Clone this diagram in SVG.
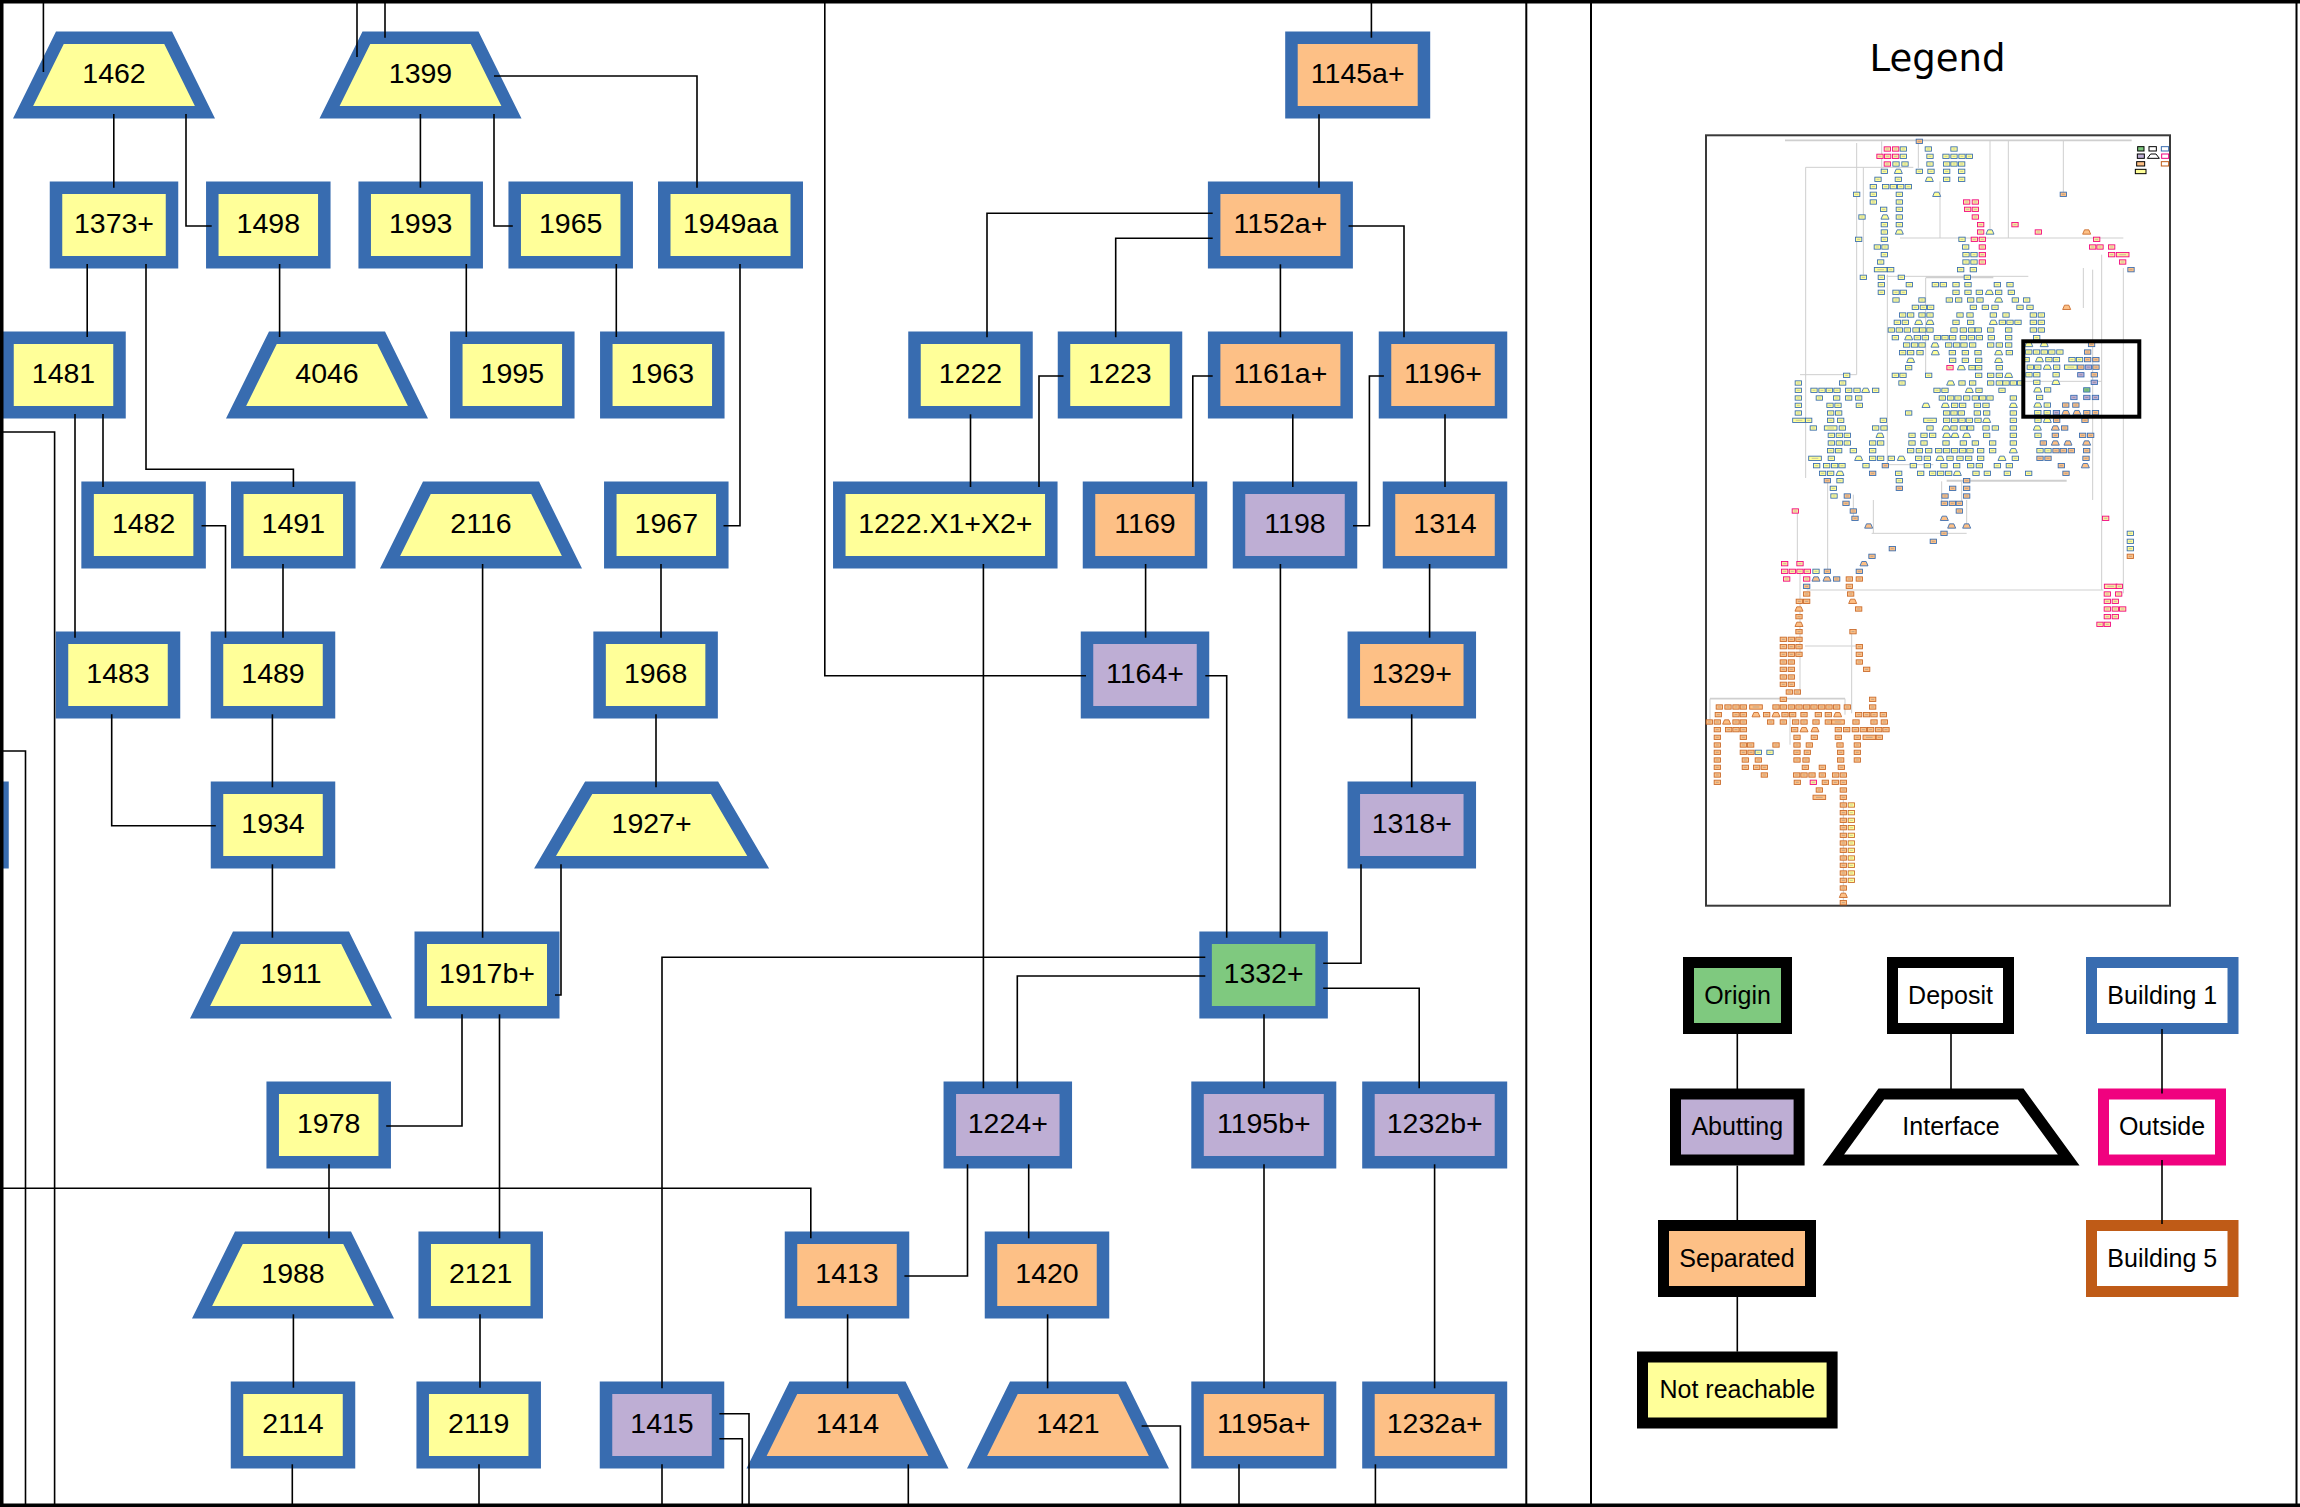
<svg xmlns="http://www.w3.org/2000/svg" width="2300" height="1507" viewBox="0 0 2300 1507">
<style>
.e{fill:none;stroke:#000;stroke-width:1.6}
.n rect,.n polygon{stroke:#386cb0;stroke-width:12.5}
.L rect,.L polygon{stroke:#000;stroke-width:11}
.t{font-family:"Liberation Sans",Arial,Helvetica,sans-serif;font-size:28.5px;text-anchor:middle;fill:#000}
.lt{font-family:"Liberation Sans",Arial,Helvetica,sans-serif;font-size:25px;text-anchor:middle;fill:#000}
.Y{fill:#ffff99}.O{fill:#fdc086}.P{fill:#beaed4}.G{fill:#7fc97f}.W{fill:#fff}
.ml{fill:none;stroke:#cfcfcf;stroke-width:3}
</style>
<defs>
<g id="my"><rect x="-9.5" y="-6.5" width="19" height="13" fill="#ffff99" stroke="#386cb0" stroke-width="2.6"/><path d="M-4.5 0h9" stroke="#999" stroke-width="1.6"/></g>
<g id="myb"><rect x="-9.5" y="-6.5" width="19" height="13" fill="#ffff99" stroke="#c8692a" stroke-width="2.6"/><path d="M-4.5 0h9" stroke="#999" stroke-width="1.6"/></g>
<g id="mw"><rect x="-19" y="-6.5" width="38" height="13" fill="#ffff99" stroke="#386cb0" stroke-width="2.6"/><path d="M-10 0h20" stroke="#999" stroke-width="1.6"/></g>
<g id="mp"><rect x="-9.5" y="-6.5" width="19" height="13" fill="#fde6a0" stroke="#f0027f" stroke-width="2.6"/><path d="M-4.5 0h9" stroke="#999" stroke-width="1.6"/></g>
<g id="mpw"><rect x="-19" y="-6.5" width="38" height="13" fill="#fde6a0" stroke="#f0027f" stroke-width="2.6"/><path d="M-10 0h20" stroke="#999" stroke-width="1.6"/></g>
<g id="mo"><rect x="-9.5" y="-6.5" width="19" height="13" fill="#fdc086" stroke="#386cb0" stroke-width="2.6"/><path d="M-4.5 0h9" stroke="#888" stroke-width="1.6"/></g>
<g id="mb"><rect x="-9.5" y="-6.5" width="19" height="13" fill="#fdc086" stroke="#c8692a" stroke-width="2.6"/><path d="M-4.5 0h9" stroke="#888" stroke-width="1.6"/></g>
<g id="mbw"><rect x="-19" y="-6.5" width="38" height="13" fill="#fdc086" stroke="#c8692a" stroke-width="2.6"/><path d="M-10 0h20" stroke="#888" stroke-width="1.6"/></g>
<g id="mv"><rect x="-9.5" y="-6.5" width="19" height="13" fill="#beaed4" stroke="#386cb0" stroke-width="2.6"/><path d="M-4.5 0h9" stroke="#777" stroke-width="1.6"/></g>
<g id="mg"><rect x="-9.5" y="-6.5" width="19" height="13" fill="#7fc97f" stroke="#386cb0" stroke-width="2.6"/><path d="M-4.5 0h9" stroke="#777" stroke-width="1.6"/></g>
<g id="mt"><polygon points="-6.5,-6.5 6.5,-6.5 12,6.5 -12,6.5" fill="#ffff99" stroke="#386cb0" stroke-width="2.6"/></g>
<g id="mtb"><polygon points="-6.5,-6.5 6.5,-6.5 12,6.5 -12,6.5" fill="#fdc086" stroke="#386cb0" stroke-width="2.6"/></g>
<g id="mto"><polygon points="-6.5,-6.5 6.5,-6.5 12,6.5 -12,6.5" fill="#fdc086" stroke="#c8692a" stroke-width="2.6"/></g>
</defs>
<rect x="0" y="0" width="2300" height="1507" fill="#fff"/>

<g id="nodes">
<g id="n1462" class="n"><polygon class="Y" points="59.88,37.75 168.12,37.75 204.94,112.25 23.06,112.25"/><text class="t" x="114" y="83">1462</text></g>
<g id="n1399" class="n"><polygon class="Y" points="366.38,37.75 474.62,37.75 511.44,112.25 329.56,112.25"/><text class="t" x="420.5" y="83">1399</text></g>
<g id="n1145a" class="n"><rect class="O" x="1291.45" y="37.75" width="132.5" height="74.5"/><text class="t" x="1357.7" y="83">1145a+</text></g>

<g id="n1373" class="n"><rect class="Y" x="56" y="187.75" width="116" height="74.5"/><text class="t" x="114" y="233">1373+</text></g>
<g id="n1498" class="n"><rect class="Y" x="212.3" y="187.75" width="112" height="74.5"/><text class="t" x="268.3" y="233">1498</text></g>
<g id="n1993" class="n"><rect class="Y" x="364.7" y="187.75" width="112" height="74.5"/><text class="t" x="420.7" y="233">1993</text></g>
<g id="n1965" class="n"><rect class="Y" x="514.7" y="187.75" width="112" height="74.5"/><text class="t" x="570.7" y="233">1965</text></g>
<g id="n1949aa" class="n"><rect class="Y" x="664.25" y="187.75" width="132.5" height="74.5"/><text class="t" x="730.5" y="233">1949aa</text></g>
<g id="n1152a" class="n"><rect class="O" x="1214.15" y="187.75" width="132.5" height="74.5"/><text class="t" x="1280.4" y="233">1152a+</text></g>

<g id="n1481" class="n"><rect class="Y" x="7.5" y="337.75" width="112" height="74.5"/><text class="t" x="63.5" y="383">1481</text></g>
<g id="n4046" class="n"><polygon class="Y" points="272.88,337.75 381.12,337.75 417.94,412.25 236.06,412.25"/><text class="t" x="327" y="383">4046</text></g>
<g id="n1995" class="n"><rect class="Y" x="456.3" y="337.75" width="112" height="74.5"/><text class="t" x="512.3" y="383">1995</text></g>
<g id="n1963" class="n"><rect class="Y" x="606.3" y="337.75" width="112" height="74.5"/><text class="t" x="662.3" y="383">1963</text></g>
<g id="n1222" class="n"><rect class="Y" x="914.5" y="337.75" width="112" height="74.5"/><text class="t" x="970.5" y="383">1222</text></g>
<g id="n1223" class="n"><rect class="Y" x="1064" y="337.75" width="112" height="74.5"/><text class="t" x="1120" y="383">1223</text></g>
<g id="n1161a" class="n"><rect class="O" x="1214.15" y="337.75" width="132.5" height="74.5"/><text class="t" x="1280.4" y="383">1161a+</text></g>
<g id="n1196" class="n"><rect class="O" x="1385" y="337.75" width="116" height="74.5"/><text class="t" x="1443" y="383">1196+</text></g>

<g id="n1482" class="n"><rect class="Y" x="87.6" y="487.75" width="112" height="74.5"/><text class="t" x="143.6" y="533">1482</text></g>
<g id="n1491" class="n"><rect class="Y" x="237.3" y="487.75" width="112" height="74.5"/><text class="t" x="293.3" y="533">1491</text></g>
<g id="n2116" class="n"><polygon class="Y" points="426.88,487.75 535.12,487.75 571.94,562.25 390.06,562.25"/><text class="t" x="481" y="533">2116</text></g>
<g id="n1967" class="n"><rect class="Y" x="610.3" y="487.75" width="112" height="74.5"/><text class="t" x="666.3" y="533">1967</text></g>
<g id="n1222X" class="n"><rect class="Y" x="839.3" y="487.75" width="212" height="74.5"/><text class="t" x="945.3" y="533">1222.X1+X2+</text></g>
<g id="n1169" class="n"><rect class="O" x="1089" y="487.75" width="112" height="74.5"/><text class="t" x="1145" y="533">1169</text></g>
<g id="n1198" class="n"><rect class="P" x="1239" y="487.75" width="112" height="74.5"/><text class="t" x="1295" y="533">1198</text></g>
<g id="n1314" class="n"><rect class="O" x="1389" y="487.75" width="112" height="74.5"/><text class="t" x="1445" y="533">1314</text></g>

<g id="n1483" class="n"><rect class="Y" x="62" y="637.75" width="112" height="74.5"/><text class="t" x="118" y="683">1483</text></g>
<g id="n1489" class="n"><rect class="Y" x="217" y="637.75" width="112" height="74.5"/><text class="t" x="273" y="683">1489</text></g>
<g id="n1968" class="n"><rect class="Y" x="599.6" y="637.75" width="112" height="74.5"/><text class="t" x="655.6" y="683">1968</text></g>
<g id="n1164" class="n"><rect class="P" x="1087" y="637.75" width="116" height="74.5"/><text class="t" x="1145" y="683">1164+</text></g>
<g id="n1329" class="n"><rect class="O" x="1353.8" y="637.75" width="116" height="74.5"/><text class="t" x="1411.8" y="683">1329+</text></g>

<g id="nOffscreen" class="n"><rect class="Y" x="-110" y="787.75" width="112.5" height="74.5"/></g>
<g id="n1934" class="n"><rect class="Y" x="217" y="787.75" width="112" height="74.5"/><text class="t" x="273" y="833">1934</text></g>
<g id="n1927" class="n"><polygon class="Y" points="588.68,787.75 714.52,787.75 758.2,862.25 545,862.25"/><text class="t" x="651.6" y="833">1927+</text></g>
<g id="n1318" class="n"><rect class="P" x="1353.8" y="787.75" width="116" height="74.5"/><text class="t" x="1411.8" y="833">1318+</text></g>

<g id="n1911" class="n"><polygon class="Y" points="236.88,937.75 345.12,937.75 381.94,1012.25 200.06,1012.25"/><text class="t" x="291" y="983">1911</text></g>
<g id="n1917b" class="n"><rect class="Y" x="420.75" y="937.75" width="132.5" height="74.5"/><text class="t" x="487" y="983">1917b+</text></g>
<g id="n1332" class="n"><rect class="G" x="1205.6" y="937.75" width="116" height="74.5"/><text class="t" x="1263.6" y="983">1332+</text></g>

<g id="n1978" class="n"><rect class="Y" x="272.7" y="1087.75" width="112" height="74.5"/><text class="t" x="328.7" y="1133">1978</text></g>
<g id="n1224" class="n"><rect class="P" x="949.8" y="1087.75" width="116" height="74.5"/><text class="t" x="1007.8" y="1133">1224+</text></g>
<g id="n1195b" class="n"><rect class="P" x="1197.55" y="1087.75" width="132.5" height="74.5"/><text class="t" x="1263.8" y="1133">1195b+</text></g>
<g id="n1232b" class="n"><rect class="P" x="1368.45" y="1087.75" width="132.5" height="74.5"/><text class="t" x="1434.7" y="1133">1232b+</text></g>

<g id="n1988" class="n"><polygon class="Y" points="238.88,1237.75 347.12,1237.75 383.94,1312.25 202.06,1312.25"/><text class="t" x="293" y="1283">1988</text></g>
<g id="n2121" class="n"><rect class="Y" x="424.7" y="1237.75" width="112" height="74.5"/><text class="t" x="480.7" y="1283">2121</text></g>
<g id="n1413" class="n"><rect class="O" x="791" y="1237.75" width="112" height="74.5"/><text class="t" x="847" y="1283">1413</text></g>
<g id="n1420" class="n"><rect class="O" x="991" y="1237.75" width="112" height="74.5"/><text class="t" x="1047" y="1283">1420</text></g>

<g id="n2114" class="n"><rect class="Y" x="237" y="1387.75" width="112" height="74.5"/><text class="t" x="293" y="1433">2114</text></g>
<g id="n2119" class="n"><rect class="Y" x="422.7" y="1387.75" width="112" height="74.5"/><text class="t" x="478.7" y="1433">2119</text></g>
<g id="n1415" class="n"><rect class="P" x="606" y="1387.75" width="112" height="74.5"/><text class="t" x="662" y="1433">1415</text></g>
<g id="n1414" class="n"><polygon class="O" points="793.38,1387.75 901.62,1387.75 938.44,1462.25 756.56,1462.25"/><text class="t" x="847.5" y="1433">1414</text></g>
<g id="n1421" class="n"><polygon class="O" points="1013.88,1387.75 1122.12,1387.75 1158.94,1462.25 977.06,1462.25"/><text class="t" x="1068" y="1433">1421</text></g>
<g id="n1195a" class="n"><rect class="O" x="1197.55" y="1387.75" width="132.5" height="74.5"/><text class="t" x="1263.8" y="1433">1195a+</text></g>
<g id="n1232a" class="n"><rect class="O" x="1368.45" y="1387.75" width="132.5" height="74.5"/><text class="t" x="1434.7" y="1433">1232a+</text></g>
</g>

<g id="connectors" class="e">
<path d="M43.4 0V72"/>
<path d="M357 0V57"/>
<path d="M385 0V37.7"/>
<path d="M494 76H697V187.7"/>
<path d="M113.8 114V187.7"/>
<path d="M186 114V226H211.7"/>
<path d="M420.4 114V187.7"/>
<path d="M494 114V226H512.8"/>
<path d="M87.2 264V337"/>
<path d="M146 264V469.3H293.4V487"/>
<path d="M279.6 264V337"/>
<path d="M466.3 264V337"/>
<path d="M616.3 264V337"/>
<path d="M740 264V525.7H723.5"/>
<path d="M103 414V487"/>
<path d="M75 414V637.7"/>
<path d="M0 432H54.6V1507"/>
<path d="M201.5 525.7H225.5V637.7"/>
<path d="M283 564V637.7"/>
<path d="M482.6 564V937.7"/>
<path d="M661 564V637.7"/>
<path d="M111.7 714.3V825.7H215.8"/>
<path d="M272.4 714.3V787.3"/>
<path d="M656 714.3V787.3"/>
<path d="M272.4 864.3V937.7"/>
<path d="M561 864.3V995H555"/>
<path d="M0 751H25.5V1507"/>
<path d="M462 1014.3V1126H386.2"/>
<path d="M499.5 1014.3V1238.3"/>
<path d="M329 1164.3V1238.3"/>
<path d="M0 1188.3H810.8V1238.3"/>
<path d="M293.4 1314.3V1387.7"/>
<path d="M480 1314.3V1387.7"/>
<path d="M292.3 1464.3V1507"/>
<path d="M479 1464.3V1507"/>
<path d="M662 1464.3V1507"/>
<path d="M719.4 1413.7H749V1507"/>
<path d="M719.4 1438.7H742.3V1507"/>
<path d="M1205.3 957.3H662V1388.3"/>
<path d="M1371.4 0V37.7"/>
<path d="M1319 114.3V187.7"/>
<path d="M1212.7 213.3H987V337.3"/>
<path d="M1212.7 238.3H1115.7V337.3"/>
<path d="M1280.4 264.3V337.3"/>
<path d="M1348.5 226H1404V337.3"/>
<path d="M970.5 414.3V487"/>
<path d="M1063.5 376H1039V487"/>
<path d="M1212.7 376H1192.8V487"/>
<path d="M1292.8 414.3V487"/>
<path d="M1383.9 376H1369.4V525.7H1353"/>
<path d="M1445 414.3V487"/>
<path d="M983.4 564V1088.3"/>
<path d="M1145.6 564V637.7"/>
<path d="M1280.4 564V937.7"/>
<path d="M1429.6 564V637.7"/>
<path d="M824.8 0V675.7H1086"/>
<path d="M1205.3 675.7H1226.7V937.7"/>
<path d="M1411.7 714.3V787.3"/>
<path d="M1361 864.3V963.3H1323.2"/>
<path d="M1205.3 976H1017.3V1088.3"/>
<path d="M1323.2 988.3H1419.2V1088.3"/>
<path d="M1264 1014.3V1088.3"/>
<path d="M967.5 1164.3V1276H904.4"/>
<path d="M1028.7 1164.3V1238.3"/>
<path d="M1264 1164.3V1388.3"/>
<path d="M1434.6 1164.3V1388.3"/>
<path d="M847.6 1314.3V1388.3"/>
<path d="M1047.6 1314.3V1388.3"/>
<path d="M908.3 1464.3V1507"/>
<path d="M1141.6 1426H1180.4V1507"/>
<path d="M1239 1464.3V1507"/>
<path d="M1375.4 1464.3V1507"/>
</g>

<g id="legend">
<text x="1937.5" y="71" font-family="DejaVu Sans,Verdana,sans-serif" font-size="37" text-anchor="middle" fill="#000">Legend</text>
<g id="minimap">
<rect x="1706" y="135.3" width="464" height="770.4" fill="#fff" stroke="#3a3a3a" stroke-width="2"/>
<g transform="translate(1700,128) scale(0.333333)">
<g class="ml">
<path d="M255 37H1295" stroke-width="5"/>
<path d="M317 118V1050M317 118H640M470 45V740M490 118V440M545 40V130M655 37V120"/>
<path d="M562 440V1010M560 445H985" />
<path d="M677 448H880" stroke-width="6"/>
<path d="M677 450V740M870 37V310M925 37V330M1090 37V195M720 160V330"/>
<path d="M600 330H1270M1150 420V540M1205 380V1386M1270 420V1396M1178 425V1116M930 760H1205"/>
<path d="M740 1058H1100" stroke-width="6"/>
<path d="M383 1050V1331M460 1100V1170M725 1060V1130M785 1060V1120M560 1010H700M300 740H470"/>
<path d="M320 1386H1210M455 1511V1756M292 1156V1306M515 1216H800M520 1116V1216M800 1116V1196M315 1554H470M300 1330V1700"/>
<path d="M30 1712H435" stroke-width="5"/>
<path d="M430 2008V2324M30 1712V1790M435 1712V1760M270 1760V1850"/>
</g>
<g transform="translate(0,40)"><use href="#mo" x="658"/></g>
<g transform="translate(0,63)"><use href="#mp" x="562"/><use href="#mp" x="587"/><use href="#my" x="610"/><use href="#my" x="685"/><use href="#my" x="762"/></g>
<g transform="translate(0,85)"><use href="#mp" x="540"/><use href="#mp" x="563"/><use href="#mp" x="587"/><use href="#my" x="610"/><use href="#my" x="690"/><use href="#my" x="738"/><use href="#my" x="762"/><use href="#my" x="786"/><use href="#my" x="808"/></g>
<g transform="translate(0,108)"><use href="#mp" x="562"/><use href="#my" x="588"/><use href="#my" x="615"/><use href="#my" x="690"/><use href="#my" x="740"/><use href="#my" x="762"/><use href="#my" x="785"/></g>
<g transform="translate(0,130)"><use href="#my" x="553"/><use href="#mt" x="595"/><use href="#my" x="658"/><use href="#my" x="693"/><use href="#my" x="740"/><use href="#my" x="785"/></g>
<g transform="translate(0,154)"><use href="#my" x="534"/><use href="#my" x="595"/><use href="#mt" x="688"/><use href="#my" x="740"/><use href="#my" x="785"/></g>
<g transform="translate(0,176)"><use href="#my" x="520"/><use href="#my" x="557"/><use href="#my" x="580"/><use href="#my" x="602"/><use href="#my" x="625"/></g>
<g transform="translate(0,199)"><use href="#my" x="470"/><use href="#my" x="520"/><use href="#my" x="598"/><use href="#mt" x="710"/><use href="#mo" x="1090"/></g>
<g transform="translate(0,222)"><use href="#my" x="520"/><use href="#my" x="598"/><use href="#mp" x="800"/><use href="#mp" x="826"/></g>
<g transform="translate(0,244)"><use href="#my" x="551"/><use href="#my" x="598"/><use href="#mp" x="803"/><use href="#mp" x="826"/></g>
<g transform="translate(0,267)"><use href="#my" x="486"/><use href="#mt" x="555"/><use href="#my" x="598"/><use href="#mp" x="826"/></g>
<g transform="translate(0,290)"><use href="#my" x="553"/><use href="#my" x="598"/><use href="#mp" x="842"/><use href="#mp" x="945"/></g>
<g transform="translate(0,312)"><use href="#my" x="553"/><use href="#mt" x="598"/><use href="#mp" x="842"/><use href="#mt" x="870"/><use href="#mp" x="1015"/><use href="#mto" x="1160"/></g>
<g transform="translate(0,334)"><use href="#my" x="476"/><use href="#my" x="553"/><use href="#my" x="786"/><use href="#mp" x="823"/><use href="#mp" x="847"/><use href="#mp" x="1190"/></g>
<g transform="translate(0,357)"><use href="#my" x="532"/><use href="#my" x="555"/><use href="#my" x="797"/><use href="#mp" x="847"/><use href="#mp" x="1178"/><use href="#mp" x="1200"/><use href="#mp" x="1235"/></g>
<g transform="translate(0,380)"><use href="#my" x="553"/><use href="#my" x="798"/><use href="#my" x="822"/><use href="#mp" x="847"/><use href="#mp" x="1235"/><use href="#mpw" x="1268"/></g>
<g transform="translate(0,402)"><use href="#my" x="542"/><use href="#my" x="798"/><use href="#my" x="822"/><use href="#mp" x="847"/><use href="#mp" x="1268"/></g>
<g transform="translate(0,425)"><use href="#mw" x="542"/><use href="#my" x="572"/><use href="#my" x="782"/><use href="#my" x="820"/><use href="#mo" x="1293"/></g>
<g transform="translate(0,448)"><use href="#my" x="490"/><use href="#my" x="544"/><use href="#my" x="604"/><use href="#my" x="802"/></g>
<g transform="translate(0,470)"><use href="#my" x="544"/><use href="#my" x="628"/><use href="#my" x="706"/><use href="#my" x="730"/><use href="#my" x="768"/><use href="#my" x="804"/><use href="#my" x="892"/><use href="#my" x="930"/></g>
<g transform="translate(0,493)"><use href="#my" x="544"/><use href="#my" x="588"/><use href="#my" x="610"/><use href="#my" x="768"/><use href="#my" x="804"/><use href="#my" x="838"/><use href="#mt" x="868"/><use href="#my" x="896"/><use href="#my" x="934"/></g>
<g transform="translate(0,516)"><use href="#my" x="588"/><use href="#my" x="666"/><use href="#my" x="748"/><use href="#my" x="776"/><use href="#my" x="812"/><use href="#my" x="840"/><use href="#mt" x="896"/><use href="#my" x="946"/><use href="#my" x="980"/></g>
<g transform="translate(0,538)"><use href="#my" x="646"/><use href="#my" x="670"/><use href="#my" x="692"/><use href="#my" x="820"/><use href="#my" x="856"/><use href="#my" x="885"/><use href="#my" x="960"/><use href="#my" x="990"/><use href="#mto" x="1100"/></g>
<g transform="translate(0,561)"><use href="#my" x="608"/><use href="#my" x="632"/><use href="#my" x="666"/><use href="#my" x="690"/><use href="#my" x="780"/><use href="#my" x="810"/><use href="#my" x="880"/><use href="#my" x="918"/><use href="#my" x="1000"/><use href="#my" x="1024"/></g>
<g transform="translate(0,583)"><use href="#my" x="592"/><use href="#my" x="616"/><use href="#mt" x="656"/><use href="#mt" x="690"/><use href="#my" x="768"/><use href="#my" x="812"/><use href="#mt" x="880"/><use href="#my" x="907"/><use href="#my" x="930"/><use href="#my" x="954"/><use href="#my" x="1000"/><use href="#my" x="1024"/></g>
<g transform="translate(0,606)"><use href="#my" x="574"/><use href="#my" x="598"/><use href="#my" x="622"/><use href="#my" x="648"/><use href="#my" x="668"/><use href="#my" x="690"/><use href="#my" x="762"/><use href="#my" x="790"/><use href="#my" x="815"/><use href="#my" x="835"/><use href="#my" x="872"/><use href="#my" x="926"/><use href="#my" x="1000"/><use href="#my" x="1024"/></g>
<g transform="translate(0,629)"><use href="#my" x="586"/><use href="#mt" x="626"/><use href="#my" x="652"/><use href="#my" x="676"/><use href="#my" x="712"/><use href="#my" x="735"/><use href="#my" x="758"/><use href="#my" x="790"/><use href="#my" x="814"/><use href="#my" x="838"/><use href="#my" x="874"/><use href="#my" x="926"/><use href="#my" x="1010"/></g>
<g transform="translate(0,651)"><use href="#my" x="620"/><use href="#my" x="644"/><use href="#my" x="666"/><use href="#mt" x="705"/><use href="#my" x="746"/><use href="#my" x="770"/><use href="#my" x="792"/><use href="#my" x="818"/><use href="#my" x="872"/><use href="#my" x="898"/><use href="#my" x="926"/></g>
<g transform="translate(0,674)"><use href="#my" x="608"/><use href="#my" x="632"/><use href="#my" x="660"/><use href="#mt" x="706"/><use href="#my" x="757"/><use href="#my" x="796"/><use href="#my" x="834"/><use href="#mt" x="896"/><use href="#my" x="928"/></g>
<g transform="translate(0,697)"><use href="#mt" x="632"/><use href="#my" x="758"/><use href="#my" x="796"/><use href="#my" x="836"/><use href="#mt" x="896"/></g>
<g transform="translate(0,719)"><use href="#my" x="626"/><use href="#mp" x="750"/><use href="#mt" x="784"/><use href="#my" x="816"/><use href="#my" x="836"/><use href="#my" x="898"/></g>
<g transform="translate(0,742)"><use href="#my" x="440"/><use href="#my" x="586"/><use href="#my" x="609"/><use href="#my" x="686"/><use href="#my" x="836"/><use href="#my" x="872"/><use href="#my" x="898"/><use href="#mt" x="926"/></g>
<g transform="translate(0,765)"><use href="#my" x="295"/><use href="#my" x="428"/><use href="#my" x="606"/><use href="#mt" x="752"/><use href="#my" x="786"/><use href="#my" x="818"/><use href="#my" x="872"/><use href="#my" x="898"/><use href="#my" x="918"/><use href="#my" x="940"/><use href="#my" x="962"/></g>
<g transform="translate(0,787)"><use href="#my" x="295"/><use href="#my" x="342"/><use href="#my" x="366"/><use href="#my" x="388"/><use href="#my" x="411"/><use href="#my" x="446"/><use href="#my" x="471"/><use href="#mt" x="497"/><use href="#my" x="527"/><use href="#my" x="711"/><use href="#my" x="735"/><use href="#mt" x="808"/><use href="#my" x="837"/><use href="#my" x="906"/></g>
<g transform="translate(0,810)"><use href="#my" x="295"/><use href="#my" x="358"/><use href="#my" x="410"/><use href="#my" x="446"/><use href="#my" x="476"/><use href="#my" x="727"/><use href="#my" x="752"/><use href="#my" x="774"/><use href="#my" x="800"/><use href="#my" x="826"/><use href="#my" x="848"/><use href="#my" x="870"/><use href="#my" x="940"/></g>
<g transform="translate(0,832)"><use href="#my" x="295"/><use href="#my" x="390"/><use href="#my" x="414"/><use href="#my" x="478"/><use href="#mt" x="678"/><use href="#mt" x="736"/><use href="#my" x="764"/><use href="#my" x="788"/><use href="#my" x="832"/><use href="#my" x="858"/><use href="#mt" x="940"/></g>
<g transform="translate(0,855)"><use href="#my" x="295"/><use href="#my" x="392"/><use href="#my" x="416"/><use href="#my" x="626"/><use href="#my" x="740"/><use href="#my" x="762"/><use href="#my" x="784"/><use href="#my" x="832"/><use href="#my" x="860"/><use href="#my" x="940"/></g>
<g transform="translate(0,877)"><use href="#mw" x="297"/><use href="#my" x="326"/><use href="#my" x="392"/><use href="#my" x="422"/><use href="#my" x="550"/><use href="#mw" x="690"/><use href="#my" x="740"/><use href="#my" x="764"/><use href="#my" x="786"/><use href="#my" x="808"/><use href="#my" x="834"/><use href="#mt" x="860"/><use href="#my" x="940"/><use href="#my" x="1014"/><use href="#mt" x="1042"/><use href="#mo" x="1070"/><use href="#mo" x="1155"/></g>
<g transform="translate(0,900)"><use href="#my" x="340"/><use href="#mw" x="392"/><use href="#my" x="427"/><use href="#my" x="527"/><use href="#my" x="552"/><use href="#my" x="690"/><use href="#mt" x="738"/><use href="#my" x="762"/><use href="#my" x="790"/><use href="#my" x="812"/><use href="#my" x="858"/><use href="#my" x="886"/><use href="#my" x="940"/><use href="#mt" x="1012"/><use href="#mtb" x="1066"/><use href="#mo" x="1094"/></g>
<g transform="translate(0,922)"><use href="#my" x="394"/><use href="#my" x="418"/><use href="#my" x="442"/><use href="#mt" x="540"/><use href="#my" x="636"/><use href="#my" x="672"/><use href="#my" x="698"/><use href="#mt" x="740"/><use href="#mt" x="765"/><use href="#mt" x="800"/><use href="#my" x="860"/><use href="#my" x="940"/><use href="#my" x="1014"/><use href="#mo" x="1066"/><use href="#mo" x="1148"/><use href="#mo" x="1172"/></g>
<g transform="translate(0,945)"><use href="#my" x="394"/><use href="#my" x="418"/><use href="#my" x="442"/><use href="#my" x="518"/><use href="#my" x="542"/><use href="#my" x="636"/><use href="#my" x="672"/><use href="#my" x="738"/><use href="#my" x="790"/><use href="#my" x="826"/><use href="#my" x="878"/><use href="#my" x="940"/><use href="#mo" x="1030"/><use href="#mtb" x="1066"/><use href="#mtb" x="1104"/><use href="#mtb" x="1160"/></g>
<g transform="translate(0,968)"><use href="#my" x="392"/><use href="#my" x="416"/><use href="#my" x="460"/><use href="#my" x="518"/><use href="#my" x="632"/><use href="#my" x="658"/><use href="#my" x="686"/><use href="#my" x="716"/><use href="#my" x="740"/><use href="#my" x="764"/><use href="#my" x="788"/><use href="#my" x="810"/><use href="#my" x="842"/><use href="#my" x="878"/><use href="#mt" x="940"/><use href="#my" x="1020"/><use href="#my" x="1044"/><use href="#mo" x="1068"/><use href="#mo" x="1090"/><use href="#mo" x="1114"/><use href="#mo" x="1160"/></g>
<g transform="translate(0,991)"><use href="#mw" x="345"/><use href="#my" x="394"/><use href="#mt" x="476"/><use href="#my" x="518"/><use href="#my" x="542"/><use href="#my" x="574"/><use href="#mt" x="604"/><use href="#my" x="656"/><use href="#my" x="682"/><use href="#mt" x="720"/><use href="#my" x="750"/><use href="#my" x="780"/><use href="#my" x="806"/><use href="#my" x="842"/><use href="#mt" x="906"/><use href="#my" x="946"/><use href="#mo" x="1020"/><use href="#mo" x="1044"/><use href="#mo" x="1158"/></g>
<g transform="translate(0,1013)"><use href="#my" x="350"/><use href="#my" x="380"/><use href="#my" x="404"/><use href="#my" x="426"/><use href="#my" x="498"/><use href="#mo" x="556"/><use href="#my" x="640"/><use href="#my" x="682"/><use href="#my" x="732"/><use href="#my" x="770"/><use href="#my" x="812"/><use href="#my" x="838"/><use href="#my" x="892"/><use href="#my" x="928"/><use href="#mo" x="1084"/><use href="#mtb" x="1156"/></g>
<g transform="translate(0,1036)"><use href="#my" x="368"/><use href="#my" x="392"/><use href="#mt" x="420"/><use href="#mo" x="518"/><use href="#my" x="596"/><use href="#my" x="662"/><use href="#my" x="698"/><use href="#my" x="722"/><use href="#my" x="746"/><use href="#mt" x="772"/><use href="#my" x="828"/><use href="#my" x="862"/><use href="#my" x="922"/><use href="#my" x="986"/><use href="#mo" x="1098"/></g>
<g transform="translate(0,1058)"><use href="#mo" x="382"/><use href="#my" x="420"/><use href="#my" x="598"/><use href="#mo" x="800"/></g>
<g transform="translate(0,1081)"><use href="#my" x="400"/><use href="#mo" x="598"/><use href="#mo" x="758"/><use href="#mo" x="800"/></g>
<g transform="translate(0,1104)"><use href="#my" x="402"/><use href="#mo" x="442"/><use href="#mo" x="735"/><use href="#mo" x="800"/></g>
<g transform="translate(0,1126)"><use href="#mo" x="438"/><use href="#mo" x="733"/><use href="#mo" x="757"/><use href="#mo" x="778"/></g>
<g transform="translate(0,1149)"><use href="#mp" x="286"/><use href="#mo" x="460"/><use href="#mo" x="778"/></g>
<g transform="translate(0,1171)"><use href="#mo" x="465"/><use href="#mtb" x="733"/><use href="#mp" x="1217"/></g>
<g transform="translate(0,1194)"><use href="#mtb" x="506"/><use href="#mtb" x="755"/><use href="#mtb" x="800"/></g>
<g transform="translate(0,1216)"><use href="#mo" x="732"/><use href="#my" x="1291"/></g>
<g transform="translate(0,1240)"><use href="#mo" x="700"/><use href="#my" x="1291"/></g>
<g transform="translate(0,1262)"><use href="#mo" x="577"/><use href="#my" x="1291"/></g>
<g transform="translate(0,1285)"><use href="#mo" x="516"/><use href="#mb" x="1291"/></g>
<g transform="translate(0,1307)"><use href="#mp" x="254"/><use href="#mp" x="300"/><use href="#mtb" x="492"/></g>
<g transform="translate(0,1330)"><use href="#mp" x="254"/><use href="#mp" x="277"/><use href="#mp" x="300"/><use href="#mp" x="322"/><use href="#my" x="348"/><use href="#mo" x="382"/><use href="#mo" x="478"/></g>
<g transform="translate(0,1353)"><use href="#mp" x="260"/><use href="#mp" x="320"/><use href="#mtb" x="348"/><use href="#mtb" x="381"/><use href="#mo" x="410"/><use href="#mb" x="448"/><use href="#mb" x="478"/></g>
<g transform="translate(0,1375)"><use href="#mo" x="320"/><use href="#mb" x="448"/><use href="#mpw" x="1232"/><use href="#mp" x="1258"/></g>
<g transform="translate(0,1398)"><use href="#mb" x="320"/><use href="#mb" x="452"/><use href="#mp" x="1222"/><use href="#mp" x="1256"/></g>
<g transform="translate(0,1420)"><use href="#mb" x="298"/><use href="#mb" x="320"/><use href="#mto" x="458"/><use href="#mp" x="1222"/><use href="#mp" x="1246"/></g>
<g transform="translate(0,1443)"><use href="#mto" x="297"/><use href="#mb" x="476"/><use href="#mp" x="1222"/><use href="#mp" x="1246"/><use href="#mp" x="1268"/></g>
<g transform="translate(0,1466)"><use href="#mb" x="297"/><use href="#mp" x="1222"/><use href="#mp" x="1246"/></g>
<g transform="translate(0,1489)"><use href="#mto" x="297"/><use href="#mp" x="1200"/><use href="#mp" x="1222"/></g>
<g transform="translate(0,1511)"><use href="#mb" x="297"/><use href="#mb" x="459"/></g>
<g transform="translate(0,1534)"><use href="#mb" x="250"/><use href="#mb" x="274"/><use href="#mb" x="297"/></g>
<g transform="translate(0,1556)"><use href="#mb" x="250"/><use href="#mb" x="274"/><use href="#mb" x="297"/><use href="#mb" x="478"/></g>
<g transform="translate(0,1579)"><use href="#mb" x="250"/><use href="#mb" x="274"/><use href="#mb" x="297"/><use href="#mb" x="478"/></g>
<g transform="translate(0,1602)"><use href="#mb" x="250"/><use href="#mb" x="274"/><use href="#mb" x="478"/></g>
<g transform="translate(0,1624)"><use href="#mb" x="250"/><use href="#mb" x="274"/><use href="#mb" x="500"/></g>
<g transform="translate(0,1647)"><use href="#mb" x="250"/><use href="#mb" x="274"/></g>
<g transform="translate(0,1669)"><use href="#mb" x="250"/><use href="#mb" x="274"/></g>
<g transform="translate(0,1692)"><use href="#mb" x="268"/><use href="#mb" x="292"/></g>
<g transform="translate(0,1714)"><use href="#mb" x="250"/><use href="#mb" x="518"/></g>
<g transform="translate(0,1737)"><use href="#mb" x="58"/><use href="#mb" x="84"/><use href="#mb" x="108"/><use href="#mb" x="130"/><use href="#mbw" x="168"/><use href="#mb" x="228"/><use href="#mb" x="250"/><use href="#mb" x="274"/><use href="#mb" x="297"/><use href="#mb" x="320"/><use href="#mb" x="342"/><use href="#mb" x="365"/><use href="#mb" x="387"/><use href="#mb" x="410"/><use href="#mb" x="442"/><use href="#mb" x="518"/></g>
<g transform="translate(0,1760)"><use href="#mb" x="55"/><use href="#mb" x="108"/><use href="#mb" x="130"/><use href="#mto" x="168"/><use href="#mb" x="200"/><use href="#mto" x="228"/><use href="#mb" x="255"/><use href="#mb" x="278"/><use href="#mb" x="312"/><use href="#mb" x="355"/><use href="#mb" x="385"/><use href="#mto" x="413"/><use href="#mb" x="476"/><use href="#mb" x="500"/><use href="#mb" x="522"/><use href="#mb" x="550"/></g>
<g transform="translate(0,1782)"><use href="#mb" x="28"/><use href="#mb" x="52"/><use href="#mto" x="80"/><use href="#mb" x="108"/><use href="#mb" x="130"/><use href="#mb" x="212"/><use href="#mb" x="250"/><use href="#mb" x="287"/><use href="#mb" x="312"/><use href="#mb" x="348"/><use href="#mb" x="385"/><use href="#mbw" x="414"/><use href="#mb" x="468"/><use href="#mb" x="522"/><use href="#mb" x="553"/></g>
<g transform="translate(0,1805)"><use href="#mb" x="52"/><use href="#mb" x="86"/><use href="#mb" x="108"/><use href="#mb" x="130"/><use href="#mb" x="284"/><use href="#mto" x="312"/><use href="#mto" x="345"/><use href="#mb" x="415"/><use href="#mb" x="440"/><use href="#mb" x="466"/><use href="#mb" x="490"/><use href="#mb" x="512"/><use href="#mb" x="536"/><use href="#mb" x="558"/></g>
<g transform="translate(0,1828)"><use href="#mb" x="52"/><use href="#mb" x="130"/><use href="#mb" x="291"/><use href="#mb" x="343"/><use href="#mb" x="415"/><use href="#mb" x="472"/><use href="#mbw" x="508"/><use href="#mb" x="538"/></g>
<g transform="translate(0,1851)"><use href="#mb" x="52"/><use href="#mb" x="130"/><use href="#mb" x="152"/><use href="#mb" x="228"/><use href="#mb" x="291"/><use href="#mb" x="328"/><use href="#mb" x="420"/><use href="#mb" x="472"/></g>
<g transform="translate(0,1873)"><use href="#mb" x="52"/><use href="#mb" x="130"/><use href="#mb" x="153"/><use href="#my" x="175"/><use href="#my" x="210"/><use href="#mb" x="291"/><use href="#mb" x="322"/><use href="#mb" x="422"/><use href="#mb" x="472"/></g>
<g transform="translate(0,1896)"><use href="#mb" x="52"/><use href="#mb" x="136"/><use href="#mb" x="175"/><use href="#mb" x="291"/><use href="#mb" x="318"/><use href="#mb" x="422"/><use href="#mb" x="472"/></g>
<g transform="translate(0,1918)"><use href="#mb" x="52"/><use href="#mb" x="136"/><use href="#mb" x="170"/><use href="#mb" x="193"/><use href="#mb" x="316"/><use href="#mb" x="367"/><use href="#mb" x="424"/></g>
<g transform="translate(0,1941)"><use href="#mb" x="52"/><use href="#mb" x="193"/><use href="#mb" x="290"/><use href="#mb" x="312"/><use href="#mb" x="336"/><use href="#mb" x="367"/><use href="#mb" x="407"/><use href="#mb" x="430"/></g>
<g transform="translate(0,1963)"><use href="#mb" x="52"/><use href="#mb" x="292"/><use href="#mp" x="340"/><use href="#mb" x="376"/><use href="#mb" x="406"/><use href="#mb" x="430"/></g>
<g transform="translate(0,1986)"><use href="#mb" x="358"/><use href="#mb" x="430"/></g>
<g transform="translate(0,2008)"><use href="#mbw" x="358"/><use href="#mb" x="430"/></g>
<g transform="translate(0,2031)"><use href="#mb" x="430"/><use href="#myb" x="454"/></g>
<g transform="translate(0,2054)"><use href="#mb" x="430"/><use href="#myb" x="454"/></g>
<g transform="translate(0,2077)"><use href="#mb" x="430"/><use href="#myb" x="454"/></g>
<g transform="translate(0,2099)"><use href="#mb" x="430"/><use href="#myb" x="454"/></g>
<g transform="translate(0,2122)"><use href="#mb" x="430"/><use href="#myb" x="454"/></g>
<g transform="translate(0,2145)"><use href="#mb" x="430"/><use href="#myb" x="454"/></g>
<g transform="translate(0,2167)"><use href="#mb" x="430"/><use href="#myb" x="454"/></g>
<g transform="translate(0,2190)"><use href="#mb" x="430"/><use href="#myb" x="454"/></g>
<g transform="translate(0,2212)"><use href="#mb" x="430"/><use href="#myb" x="454"/></g>
<g transform="translate(0,2235)"><use href="#mb" x="430"/><use href="#myb" x="454"/></g>
<g transform="translate(0,2257)"><use href="#mb" x="430"/><use href="#myb" x="454"/></g>
<g transform="translate(0,2280)"><use href="#mb" x="430"/></g>
<g transform="translate(0,2302)"><use href="#mto" x="430"/></g>
<g transform="translate(0,2324)"><use href="#mb" x="430"/></g>
<!-- viewport area -->
<g transform="translate(0,649.4)"><use href="#mt" x="986.3"/><use href="#mt" x="1032.7"/><use href="#mo" x="1174.7"/></g>
<g transform="translate(0,672.1)"><use href="#my" x="986.3"/><use href="#my" x="1009.6"/><use href="#my" x="1032.7"/><use href="#my" x="1055.5"/><use href="#my" x="1079.7"/><use href="#mo" x="1163"/></g>
<g transform="translate(0,694.8)"><use href="#my" x="978.4"/><use href="#mt" x="1018.5"/><use href="#my" x="1046.6"/><use href="#my" x="1069.3"/><use href="#my" x="1116"/><use href="#my" x="1138.7"/><use href="#mo" x="1163"/><use href="#mo" x="1187.6"/></g>
<g transform="translate(0,717.5)"><use href="#my" x="990.8"/><use href="#my" x="1013.4"/><use href="#mt" x="1041.9"/><use href="#my" x="1069.9"/><use href="#mw" x="1112.2"/><use href="#mo" x="1142.5"/><use href="#mv" x="1165.2"/><use href="#mo" x="1187.9"/></g>
<g transform="translate(0,740.3)"><use href="#my" x="986.9"/><use href="#my" x="1010.4"/><use href="#my" x="1068.3"/><use href="#mv" x="1142.5"/><use href="#mo" x="1182.9"/></g>
<g transform="translate(0,763)"><use href="#my" x="1010.4"/><use href="#mt" x="1067.7"/><use href="#mv" x="1182.9"/></g>
<g transform="translate(0,785.7)"><use href="#mt" x="1013.1"/><use href="#my" x="1042.8"/><use href="#mg" x="1160.4"/></g>
<g transform="translate(0,808.4)"><use href="#my" x="1018.8"/><use href="#mv" x="1121.7"/><use href="#mv" x="1160.5"/><use href="#mv" x="1186.4"/></g>
<g transform="translate(0,831.2)"><use href="#mt" x="1013.4"/><use href="#my" x="1041.8"/><use href="#mo" x="1097.3"/><use href="#mo" x="1127.6"/></g>
<g transform="translate(0,853.9)"><use href="#my" x="1013.4"/><use href="#my" x="1041.5"/><use href="#mv" x="1069.3"/><use href="#mtb" x="1097.4"/><use href="#mtb" x="1130.8"/><use href="#mo" x="1160.5"/><use href="#mo" x="1186.4"/></g>
<!-- mini legend -->
<g stroke="#000" stroke-width="3">
<rect x="1313" y="56" width="19" height="13" fill="#7fc97f"/>
<rect x="1347" y="56" width="22" height="13" fill="#fff"/>
<rect x="1384" y="56" width="22" height="13" fill="#fff" stroke="#386cb0"/>
<rect x="1312" y="78" width="21" height="13" fill="#beaed4"/>
<polygon points="1352,78 1368,78 1378,91 1342,91" fill="#fff"/>
<rect x="1385" y="78" width="21" height="13" fill="#fff" stroke="#f0027f"/>
<rect x="1310" y="101" width="24" height="13" fill="#fdc086"/>
<rect x="1384" y="101" width="22" height="13" fill="#fff" stroke="#bf5b17"/>
<rect x="1306" y="124" width="32" height="13" fill="#ffff99"/>
</g>
</g>
<rect x="2023.3" y="341.3" width="116" height="75.4" fill="none" stroke="#000" stroke-width="4"/>
</g>

<g id="lgOrigin" class="L"><rect class="G" x="1688.5" y="962.5" width="98" height="66"/><text class="lt" x="1737.5" y="1003.5">Origin</text></g>
<g id="lgDeposit" class="L"><rect class="W" x="1892.5" y="962.5" width="116" height="66"/><text class="lt" x="1950.5" y="1003.5">Deposit</text></g>
<g id="lgBuilding1" class="L"><rect class="W" x="2091.5" y="962.5" width="141.5" height="66" style="stroke:#386cb0"/><text class="lt" x="2162.25" y="1003.5">Building 1</text></g>
<g id="lgAbutting" class="L"><rect class="P" x="1675.5" y="1094" width="123.6" height="66"/><text class="lt" x="1737.3" y="1135">Abutting</text></g>
<g id="lgInterface" class="L"><polygon class="W" points="1881.3,1094 2020.7,1094 2068.7,1160 1833.3,1160"/><text class="lt" x="1951" y="1135">Interface</text></g>
<g id="lgOutside" class="L"><rect class="W" x="2103.5" y="1094" width="117" height="66" style="stroke:#f0027f"/><text class="lt" x="2162" y="1135">Outside</text></g>
<g id="lgSeparated" class="L"><rect class="O" x="1663.5" y="1225.5" width="147" height="66"/><text class="lt" x="1737" y="1266.5">Separated</text></g>
<g id="lgBuilding5" class="L"><rect class="W" x="2091.5" y="1225.5" width="141.5" height="66" style="stroke:#bf5b17"/><text class="lt" x="2162.25" y="1266.5">Building 5</text></g>
<g id="lgNotReachable" class="L"><rect class="Y" x="1642.5" y="1357" width="189.6" height="66"/><text class="lt" x="1737.3" y="1398">Not reachable</text></g>
<g id="legend-connectors" class="e">
<path d="M1737.3 1034V1089"/>
<path d="M1737.3 1165.5V1220.5"/>
<path d="M1737.3 1296V1351.7"/>
<path d="M1951 1034V1089"/>
<path d="M2162 1029V1093.5"/>
<path d="M2162 1160V1224"/>
</g>
</g>

<g id="frame">
<rect x="0" y="0" width="2300" height="3.5" fill="#000"/>
<rect x="0" y="1503.5" width="2300" height="3.5" fill="#000"/>
<rect x="0" y="0" width="3.5" height="1507" fill="#000"/>
<path d="M1526.3 0V1507M1591 0V1507M2296.5 0V1507" stroke="#000" stroke-width="2" fill="none"/>
</g>
</svg>
